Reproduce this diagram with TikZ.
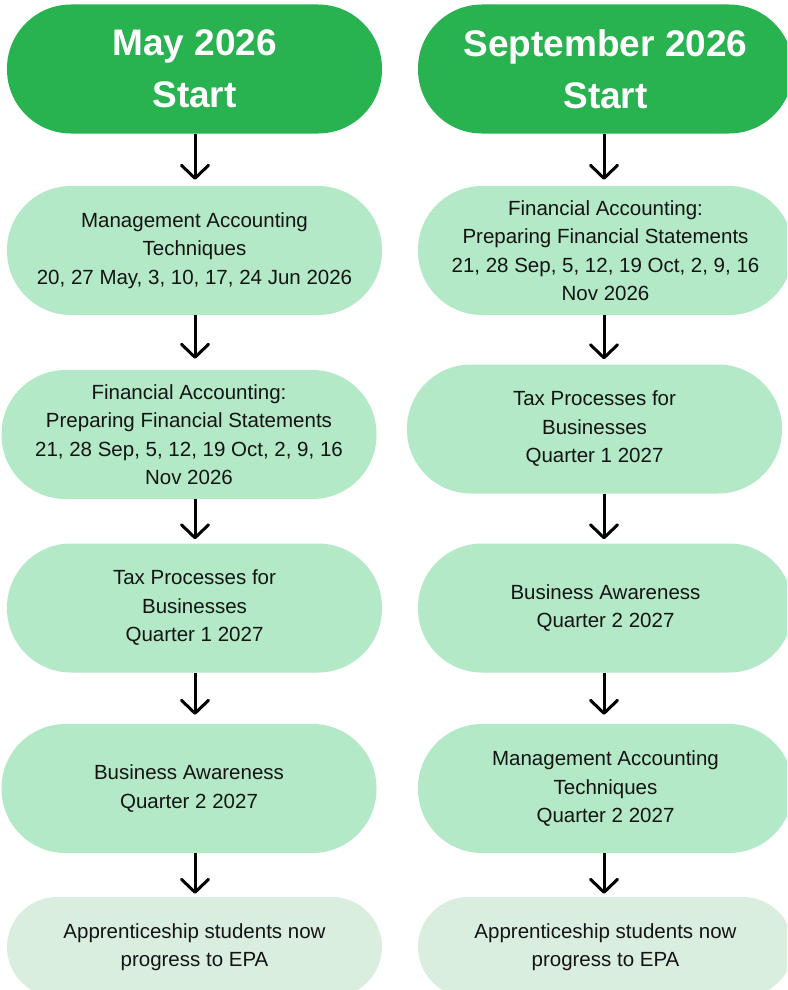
\documentclass[tikz,border=0pt]{standalone}
\usepackage{fontspec}
\setmainfont{Liberation Sans}
\usetikzlibrary{arrows.meta}
\definecolor{darkgreen}{RGB}{40,178,80}
\definecolor{lightgreen}{RGB}{179,233,199}
\definecolor{palegreen}{RGB}{218,238,224}
\definecolor{textblack}{RGB}{20,20,20}
\tikzset{
  pill/.style={fill=lightgreen, draw=none, minimum width=375pt, minimum height=129pt,
    rounded corners=64pt, align=center, inner sep=0pt, text=textblack,
    font=\fontsize{20.5}{28.5}\selectfont},
  startpill/.style={pill, fill=darkgreen, text=white,
    font=\fontsize{37}{52}\selectfont\bfseries},
  endpill/.style={pill, fill=palegreen, minimum height=100pt, rounded corners=50pt},
  arr/.style={line width=3pt, -{Straight Barb[length=13pt,width=27pt,line cap=round,line join=round]}},
}
\begin{document}
\begin{tikzpicture}[x=1pt,y=-1pt]
\useasboundingbox (0,0) rectangle (787,990);
\clip (0,0) rectangle (787,990);
\coordinate (lx) at (195,0);
\coordinate (rx) at (604,0);
% left column
\node[startpill] (L1) at (194.5,69) {May 2026\\Start};
\node[pill] (L2) at (194.5,250.5) {Management Accounting\\Techniques\\20, 27 May, 3, 10, 17, 24 Jun 2026};
\node[pill] (L3) at (189,434.5) {Financial Accounting:\\Preparing Financial Statements\\21, 28 Sep, 5, 12, 19 Oct, 2, 9, 16\\Nov 2026};
\node[pill] (L4) at (194.5,608) {Tax Processes for\\Businesses\\Quarter 1 2027};
\node[pill] (L5) at (189,788.5) {Business Awareness\\Quarter 2 2027};
\node[endpill] (L6) at (194.5,947) {Apprenticeship students now\\progress to EPA};
% right column
\node[startpill] (R1) at (605.5,69) {September 2026\\Start};
\node[pill] (R2) at (605.5,250.5) {Financial Accounting:\\Preparing Financial Statements\\21, 28 Sep, 5, 12, 19 Oct, 2, 9, 16\\Nov 2026};
\node[pill] (R3) at (594.5,429) {Tax Processes for\\Businesses\\Quarter 1 2027};
\node[pill] (R4) at (605.5,608) {Business Awareness\\Quarter 2 2027};
\node[pill] (R5) at (605.5,788.5) {Management Accounting\\Techniques\\Quarter 2 2027};
\node[endpill] (R6) at (605.5,947) {Apprenticeship students now\\progress to EPA};
% arrows left
\draw[arr] (L1.south -| lx) -- ([yshift=6pt]L2.north -| lx);
\draw[arr] (L2.south -| lx) -- ([yshift=11pt]L3.north -| lx);
\draw[arr] (L3.south -| lx) -- ([yshift=4pt]L4.north -| lx);
\draw[arr] (L4.south -| lx) -- ([yshift=9pt]L5.north -| lx);
\draw[arr] (L5.south -| lx) -- ([yshift=3pt]L6.north -| lx);
% arrows right
\draw[arr] (R1.south -| rx) -- ([yshift=6pt]R2.north -| rx);
\draw[arr] (R2.south -| rx) -- ([yshift=5pt]R3.north -| rx);
\draw[arr] (R3.south -| rx) -- ([yshift=4pt]R4.north -| rx);
\draw[arr] (R4.south -| rx) -- ([yshift=9pt]R5.north -| rx);
\draw[arr] (R5.south -| rx) -- ([yshift=3pt]R6.north -| rx);
\end{tikzpicture}
\end{document}
